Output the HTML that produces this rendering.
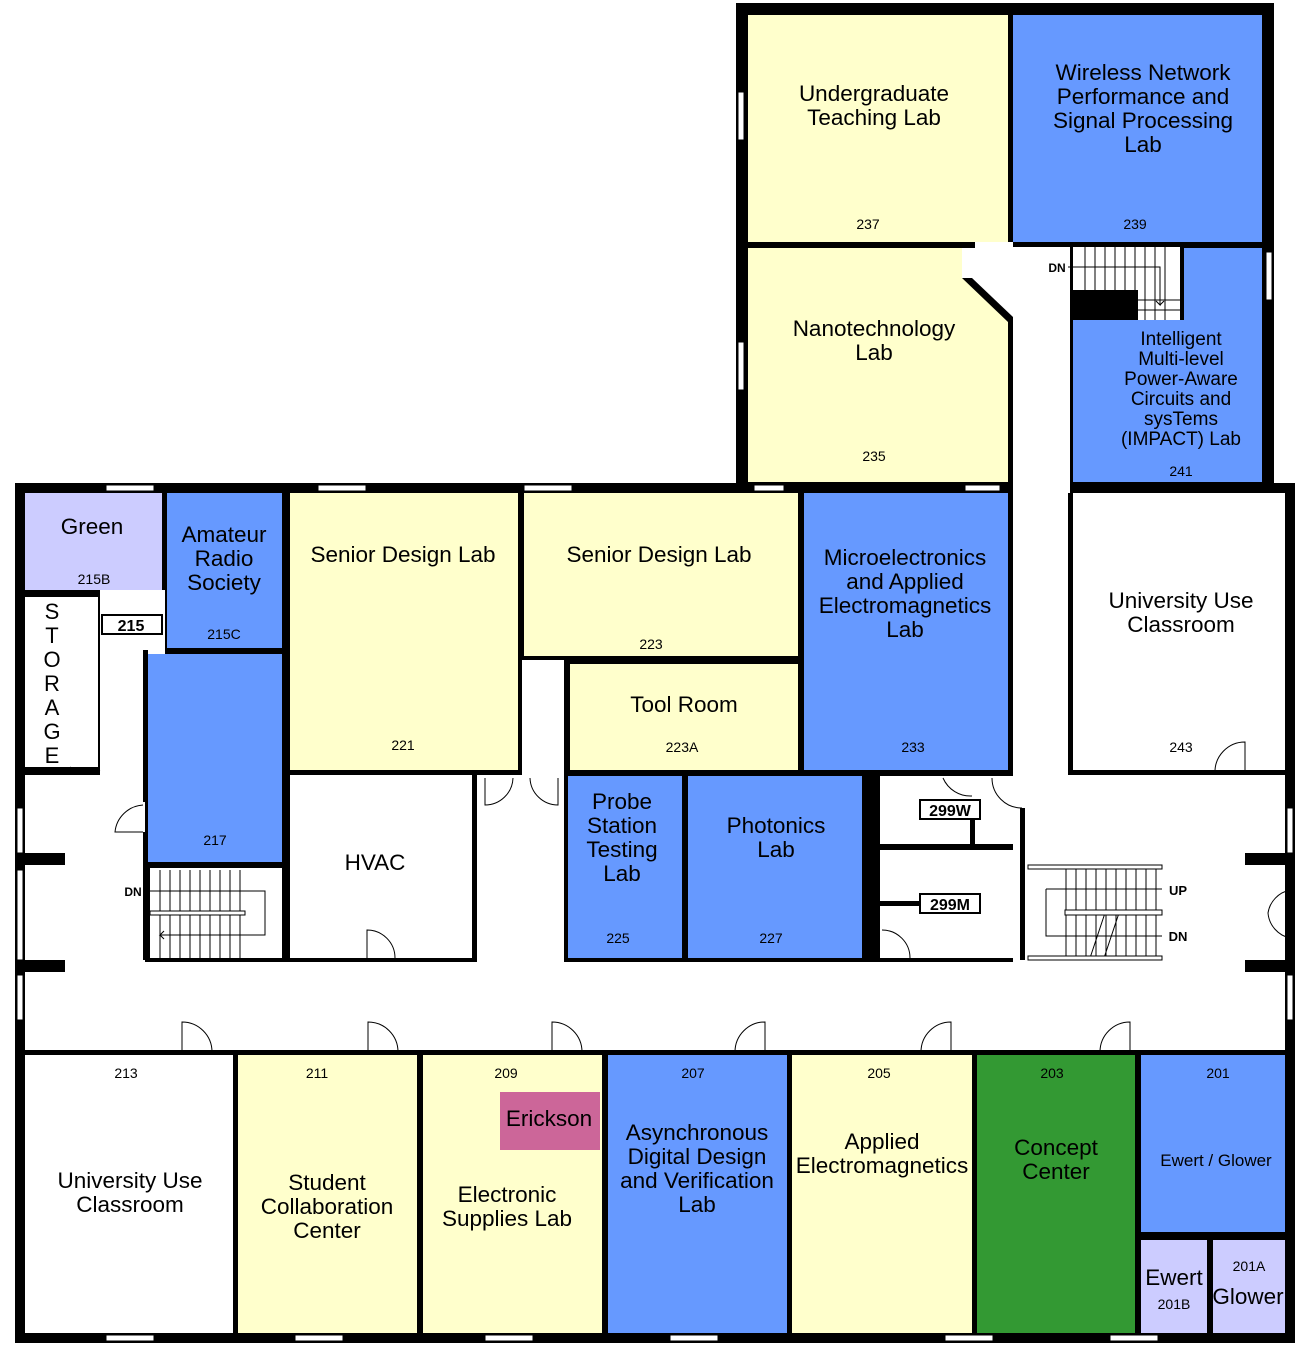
<!DOCTYPE html>
<html><head><meta charset="utf-8"><style>
html,body{margin:0;padding:0;background:#fff;}
svg{display:block}
text{font-family:"Liberation Sans",sans-serif;fill:#000;text-anchor:middle}
.n{font-size:22.5px}
.s{font-size:14px}
.w{fill:#fff}
.y{fill:#FFFFCC}
.b{fill:#6699FF}
.l{fill:#CCCCFF}
.g{fill:#339933}
.k{fill:#000}
.ln{stroke:#000;stroke-width:1;fill:none}
.win{fill:#fff;stroke:#000;stroke-width:1}
</style></head><body>
<svg width="1306" height="1348" viewBox="0 0 1306 1348">
<rect width="1306" height="1348" fill="#fff"/>
<rect class="k" x="736" y="3" width="538" height="490"/>
<rect class="k" x="15" y="483" width="1280" height="860"/>

<rect class="w" x="1013" y="247" width="57" height="246"/>
<rect class="w" x="962" y="248" width="51" height="30"/>
<polygon class="w" points="972,278 1013,278 1013,317"/>
<rect class="w" x="1073" y="247" width="107" height="43"/>
<rect class="w" x="1138" y="290" width="42" height="30"/>
<rect class="w" x="1013" y="493" width="55" height="282"/>
<rect class="w" x="25" y="775" width="120" height="275"/>
<rect class="w" x="100" y="596" width="65" height="179"/>
<rect class="w" x="25" y="962" width="1260" height="88"/>
<rect class="w" x="477" y="775" width="87" height="187"/>
<rect class="w" x="522" y="660" width="42" height="115"/>
<rect class="w" x="1027" y="775" width="258" height="187"/>
<rect class="w" x="880" y="776" width="140" height="68"/>
<rect class="w" x="880" y="850" width="140" height="108"/>
<rect class="w" x="1013" y="775" width="14" height="187"/>
<rect class="w" x="150" y="868" width="132" height="90"/>
<rect class="w" x="290" y="775" width="182" height="183"/>
<rect class="w" x="25" y="597" width="73" height="170"/>
<rect class="k" x="1020" y="808" width="5" height="152"/>
<rect class="k" x="143" y="650" width="5" height="152"/>
<rect class="k" x="143" y="832" width="5" height="128"/>

<rect class="y" x="748" y="15" width="260" height="227"/>
<rect class="b" x="1013" y="15" width="249" height="227"/>
<polygon class="y" points="748,248 962,248 962,278 1008,322 1008,482 748,482"/>
<polygon class="b" points="1184,248 1262,248 1262,482 1073,482 1073,320 1184,320"/>

<rect class="l" x="25" y="493" width="137" height="97"/>
<rect class="b" x="167" y="493" width="115" height="155"/>
<rect class="b" x="148" y="654" width="134" height="208"/>
<rect class="y" x="290" y="493" width="228" height="277"/>
<rect class="y" x="524" y="493" width="274" height="163"/>
<rect class="y" x="570" y="664" width="228" height="106"/>
<rect class="b" x="804" y="493" width="204" height="277"/>
<rect class="w" x="1073" y="493" width="212" height="277"/>
<rect class="b" x="568" y="776" width="114" height="182"/>
<rect class="b" x="688" y="776" width="174" height="182"/>
<rect class="w" x="25" y="1055" width="208" height="278"/>
<rect class="y" x="238" y="1055" width="179" height="278"/>
<rect class="y" x="423" y="1055" width="179" height="278"/>
<rect fill="#CC6699" x="500" y="1092" width="100" height="58"/>
<rect class="b" x="608" y="1055" width="179" height="278"/>
<rect class="y" x="792" y="1055" width="180" height="278"/>
<rect class="g" x="977" y="1055" width="158" height="278"/>
<rect class="b" x="1141" y="1055" width="144" height="177"/>
<rect class="l" x="1141" y="1240" width="66" height="93"/>
<rect class="l" x="1213" y="1240" width="72" height="93"/>

<rect class="w" x="975" y="242" width="38" height="6"/>
<rect class="w" x="100" y="590" width="65" height="7"/>

<g class="ln">
<path d="M1085,247V290M1095,247V290M1105,247V290M1115,247V290M1125,247V290M1135,247V290M1145,247V320M1155,247V320M1165,247V320"/>
<path d="M1138,300H1180M1138,310H1180M1068,267H1160V305l-4,-4M1160,305l4,-4"/>
</g>
<rect class="k" x="1070" y="290" width="68" height="30"/>
<text x="1057" y="272" style="font-size:12px;font-weight:bold">DN</text>

<g class="ln">
<path d="M160,870v88M170,870v88M180,870v88M190,870v88M200,870v88M210,870v88M220,870v88M230,870v88M240,870v88"/>
<path d="M150,891H265V935H160l4,-4M160,935l4,4"/>
</g>
<rect class="win" x="150" y="911" width="95" height="4"/>
<text x="133" y="896" style="font-size:12px;font-weight:bold">DN</text>

<g class="ln">
<path d="M1066,866v92M1076,866v92M1086,866v92M1096,866v92M1106,866v92M1116,866v92M1126,866v92M1136,866v92M1146,866v92M1156,866v92"/>
<path d="M1046,889H1162M1046,889V936H1162M1090,958l15,-45M1104,958l15,-45"/>
</g>
<rect class="win" x="1028" y="865" width="134" height="4"/>
<rect class="win" x="1065" y="910" width="97" height="5"/>
<rect class="win" x="1028" y="956" width="134" height="4"/>
<text x="1178" y="895" style="font-size:13px;font-weight:bold">UP</text>
<text x="1178" y="941" style="font-size:13px;font-weight:bold">DN</text>

<rect class="win" x="106" y="485" width="48" height="6"/>
<rect class="win" x="318" y="485" width="48" height="6"/>
<rect class="win" x="524" y="485" width="48" height="6"/>
<rect class="win" x="754" y="485" width="30" height="6"/>
<rect class="win" x="965" y="485" width="35" height="6"/>
<rect class="win" x="738" y="92" width="6" height="48"/>
<rect class="win" x="738" y="342" width="6" height="48"/>
<rect class="win" x="1266" y="252" width="6" height="48"/>
<rect class="win" x="17" y="808" width="6" height="45"/>
<rect class="win" x="17" y="870" width="6" height="90"/>
<rect class="win" x="17" y="975" width="6" height="45"/>
<rect class="win" x="1287" y="808" width="6" height="45"/>
<rect class="win" x="1287" y="975" width="6" height="45"/>
<rect class="win" x="106" y="1335" width="48" height="6"/>
<rect class="win" x="295" y="1335" width="48" height="6"/>
<rect class="win" x="485" y="1335" width="48" height="6"/>
<rect class="win" x="670" y="1335" width="48" height="6"/>
<rect class="win" x="945" y="1335" width="48" height="6"/>
<rect class="win" x="1110" y="1335" width="48" height="6"/>
<rect class="k" x="15" y="853" width="50" height="12"/>
<rect class="k" x="15" y="960" width="50" height="12"/>
<rect class="k" x="1245" y="853" width="50" height="12"/>
<rect class="k" x="1245" y="960" width="50" height="12"/>

<g class="ln">
<path d="M70,767 A30,30 0 0 0 100,770"/>
<path d="M143,805 A30,30 0 0 0 115,832H143"/>
<path d="M485,778V805A28,28 0 0 0 513,778"/>
<path d="M558,778V805A28,28 0 0 1 530,778"/>
<path d="M367,958V930A28,28 0 0 1 395,958"/>
<path d="M182,1052V1022A30,30 0 0 1 212,1052"/>
<path d="M368,1052V1022A30,30 0 0 1 398,1052"/>
<path d="M552,1052V1022A30,30 0 0 1 582,1052"/>
<path d="M765,1052V1022A30,30 0 0 0 735,1052"/>
<path d="M951,1052V1022A30,30 0 0 0 921,1052"/>
<path d="M1130,1052V1022A30,30 0 0 0 1100,1052"/>
<path d="M1245,773V742A30,30 0 0 0 1215,773"/>
<path d="M992,778A30,30 0 0 0 1022,808"/>
<path d="M943,778A30,30 0 0 0 972,796"/>
<path d="M882,930A28,28 0 0 1 910,958"/>
<path d="M1290,890A28,28 0 0 0 1268,913A28,28 0 0 0 1290,938"/>
</g>

<rect x="102" y="615" width="60" height="19" fill="#fff" stroke="#000" stroke-width="2"/>
<text x="131" y="631" style="font-size:16px;font-weight:bold">215</text>
<rect x="920" y="800" width="60" height="19" fill="#fff" stroke="#000" stroke-width="2"/>
<text x="950" y="816" style="font-size:16px;font-weight:bold">299W</text>
<rect x="920" y="894" width="60" height="19" fill="#fff" stroke="#000" stroke-width="2"/>
<text x="950" y="910" style="font-size:16px;font-weight:bold">299M</text>
<rect class="k" x="880" y="901" width="40" height="5"/>
<rect class="k" x="970" y="819" width="5" height="25"/>

<g class="n">
<text x="874" y="101">Undergraduate</text><text x="874" y="125">Teaching Lab</text>
<text x="1143" y="80">Wireless Network</text><text x="1143" y="104">Performance and</text><text x="1143" y="128">Signal Processing</text><text x="1143" y="152">Lab</text>
<text x="874" y="336">Nanotechnology</text><text x="874" y="360">Lab</text>
<text x="92" y="534">Green</text>
<text x="224" y="542">Amateur</text><text x="224" y="566">Radio</text><text x="224" y="590">Society</text>
<text x="403" y="562">Senior Design Lab</text>
<text x="659" y="562">Senior Design Lab</text>
<text x="905" y="565">Microelectronics</text><text x="905" y="589">and Applied</text><text x="905" y="613">Electromagnetics</text><text x="905" y="637">Lab</text>
<text x="1181" y="608">University Use</text><text x="1181" y="632">Classroom</text>
<text x="684" y="712">Tool Room</text>
<text x="375" y="870">HVAC</text>
<text x="622" y="809">Probe</text><text x="622" y="833">Station</text><text x="622" y="857">Testing</text><text x="622" y="881">Lab</text>
<text x="776" y="833">Photonics</text><text x="776" y="857">Lab</text>
<text x="130" y="1188">University Use</text><text x="130" y="1212">Classroom</text>
<text x="327" y="1190">Student</text><text x="327" y="1214">Collaboration</text><text x="327" y="1238">Center</text>
<text x="549" y="1126">Erickson</text>
<text x="507" y="1202">Electronic</text><text x="507" y="1226">Supplies Lab</text>
<text x="697" y="1140">Asynchronous</text><text x="697" y="1164">Digital Design</text><text x="697" y="1188">and Verification</text><text x="697" y="1212">Lab</text>
<text x="882" y="1149">Applied</text><text x="882" y="1173">Electromagnetics</text>
<text x="1056" y="1155">Concept</text><text x="1056" y="1179">Center</text>
<text x="1174" y="1285">Ewert</text>
<text x="1248" y="1304">Glower</text>
</g>
<g style="font-size:19px">
<text x="1181" y="345">Intelligent</text><text x="1181" y="365">Multi-level</text><text x="1181" y="385">Power-Aware</text><text x="1181" y="405">Circuits and</text><text x="1181" y="425">sysTems</text><text x="1181" y="445">(IMPACT) Lab</text>
</g>
<text x="1216" y="1166" style="font-size:17px">Ewert / Glower</text>
<g style="font-size:22px">
<text x="52" y="619">S</text><text x="52" y="643">T</text><text x="52" y="667">O</text><text x="52" y="691">R</text><text x="52" y="715">A</text><text x="52" y="739">G</text><text x="52" y="763">E</text>
</g>
<g class="s">
<text x="868" y="229">237</text><text x="1135" y="229">239</text><text x="874" y="461">235</text><text x="1181" y="476">241</text>
<text x="94" y="584">215B</text><text x="224" y="639">215C</text><text x="215" y="845">217</text>
<text x="403" y="750">221</text><text x="651" y="649">223</text><text x="682" y="752">223A</text><text x="913" y="752">233</text><text x="1181" y="752">243</text>
<text x="618" y="943">225</text><text x="771" y="943">227</text>
<text x="126" y="1078">213</text><text x="317" y="1078">211</text><text x="506" y="1078">209</text><text x="693" y="1078">207</text><text x="879" y="1078">205</text><text x="1052" y="1078">203</text><text x="1218" y="1078">201</text>
<text x="1174" y="1309">201B</text><text x="1249" y="1271">201A</text>
</g>
</svg>
</body></html>
